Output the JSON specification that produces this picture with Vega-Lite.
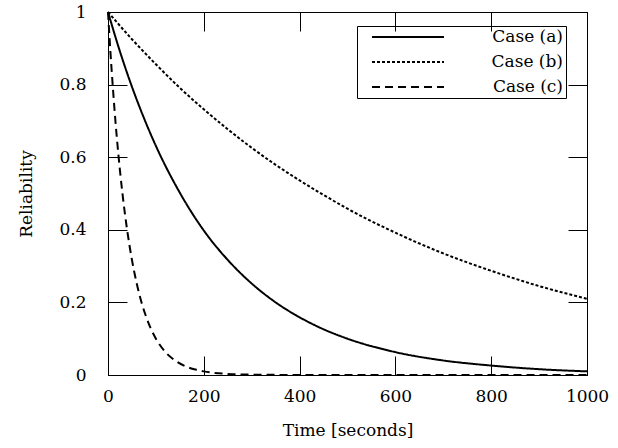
{
  "$schema": "https://vega.github.io/schema/vega-lite/v6.json",
  "width": 479,
  "height": 363,
  "autosize": {"type": "none"},
  "padding": {"left": 108, "top": 12, "right": 31, "bottom": 73},
  "config": {
    "font": "DejaVu Serif",
    "view": {"stroke": "black", "strokeWidth": 1},
    "axis": {
      "grid": false,
      "domainColor": "black",
      "tickColor": "black",
      "tickSize": -19,
      "labelFlush": false,
      "labelFont": "DejaVu Serif",
      "labelFontSize": 17,
      "labelColor": "black",
      "titleFont": "DejaVu Serif",
      "titleFontSize": 17,
      "titleFontWeight": "normal",
      "titleColor": "black"
    }
  },
  "data": {"values": [
    {"t": 0, "r": 1, "case": "Case (a)"},
    {"t": 25, "r": 0.891, "case": "Case (a)"},
    {"t": 50, "r": 0.794, "case": "Case (a)"},
    {"t": 75, "r": 0.708, "case": "Case (a)"},
    {"t": 100, "r": 0.631, "case": "Case (a)"},
    {"t": 150, "r": 0.502, "case": "Case (a)"},
    {"t": 200, "r": 0.398, "case": "Case (a)"},
    {"t": 250, "r": 0.317, "case": "Case (a)"},
    {"t": 300, "r": 0.252, "case": "Case (a)"},
    {"t": 350, "r": 0.2, "case": "Case (a)"},
    {"t": 400, "r": 0.159, "case": "Case (a)"},
    {"t": 450, "r": 0.126, "case": "Case (a)"},
    {"t": 500, "r": 0.1, "case": "Case (a)"},
    {"t": 600, "r": 0.063, "case": "Case (a)"},
    {"t": 700, "r": 0.04, "case": "Case (a)"},
    {"t": 800, "r": 0.026, "case": "Case (a)"},
    {"t": 900, "r": 0.016, "case": "Case (a)"},
    {"t": 1000, "r": 0.01, "case": "Case (a)"},
    {"t": 0, "r": 1, "case": "Case (b)"},
    {"t": 50, "r": 0.925, "case": "Case (b)"},
    {"t": 100, "r": 0.856, "case": "Case (b)"},
    {"t": 150, "r": 0.791, "case": "Case (b)"},
    {"t": 200, "r": 0.732, "case": "Case (b)"},
    {"t": 250, "r": 0.677, "case": "Case (b)"},
    {"t": 300, "r": 0.626, "case": "Case (b)"},
    {"t": 350, "r": 0.579, "case": "Case (b)"},
    {"t": 400, "r": 0.536, "case": "Case (b)"},
    {"t": 450, "r": 0.496, "case": "Case (b)"},
    {"t": 500, "r": 0.458, "case": "Case (b)"},
    {"t": 600, "r": 0.392, "case": "Case (b)"},
    {"t": 700, "r": 0.335, "case": "Case (b)"},
    {"t": 800, "r": 0.287, "case": "Case (b)"},
    {"t": 900, "r": 0.245, "case": "Case (b)"},
    {"t": 1000, "r": 0.21, "case": "Case (b)"},
    {"t": 0, "r": 1, "case": "Case (c)"},
    {"t": 5, "r": 0.891, "case": "Case (c)"},
    {"t": 10, "r": 0.795, "case": "Case (c)"},
    {"t": 15, "r": 0.708, "case": "Case (c)"},
    {"t": 20, "r": 0.631, "case": "Case (c)"},
    {"t": 25, "r": 0.563, "case": "Case (c)"},
    {"t": 30, "r": 0.502, "case": "Case (c)"},
    {"t": 40, "r": 0.399, "case": "Case (c)"},
    {"t": 50, "r": 0.317, "case": "Case (c)"},
    {"t": 60, "r": 0.252, "case": "Case (c)"},
    {"t": 70, "r": 0.2, "case": "Case (c)"},
    {"t": 80, "r": 0.159, "case": "Case (c)"},
    {"t": 90, "r": 0.126, "case": "Case (c)"},
    {"t": 100, "r": 0.1, "case": "Case (c)"},
    {"t": 120, "r": 0.063, "case": "Case (c)"},
    {"t": 140, "r": 0.04, "case": "Case (c)"},
    {"t": 160, "r": 0.025, "case": "Case (c)"},
    {"t": 180, "r": 0.016, "case": "Case (c)"},
    {"t": 200, "r": 0.01, "case": "Case (c)"},
    {"t": 250, "r": 0.003, "case": "Case (c)"},
    {"t": 300, "r": 0.001, "case": "Case (c)"},
    {"t": 400, "r": 0.0001, "case": "Case (c)"},
    {"t": 600, "r": 0, "case": "Case (c)"},
    {"t": 800, "r": 0, "case": "Case (c)"},
    {"t": 1000, "r": 0, "case": "Case (c)"}
  ]},
  "resolve": {"axis": {"x": "independent", "y": "independent"}},
  "layer": [
    {
      "mark": {"type": "line", "color": "black", "strokeWidth": 2, "interpolate": "monotone"},
      "encoding": {
        "x": {"field": "t", "type": "quantitative", "scale": {"domain": [0, 1000], "nice": false},
          "axis": {"orient": "bottom", "title": "Time [seconds]", "values": [0, 200, 400, 600, 800, 1000], "format": "d", "labelPadding": 32, "titlePadding": 18}},
        "y": {"field": "r", "type": "quantitative", "scale": {"domain": [0, 1], "nice": false},
          "axis": {"orient": "left", "title": "Reliability", "values": [0, 0.2, 0.4, 0.6, 0.8, 1], "format": "~g", "labelPadding": 41, "titlePadding": 23}},
        "strokeDash": {"field": "case", "type": "nominal",
          "scale": {"domain": ["Case (a)", "Case (b)", "Case (c)"], "range": [[1, 0], [3, 2], [8, 5]]},
          "legend": {
            "title": null,
            "orient": "none",
            "legendX": 249,
            "legendY": 14,
            "symbolType": "stroke",
            "symbolSize": 5184,
            "symbolStrokeWidth": 2,
            "symbolStrokeColor": "black",
            "symbolOffset": 11,
            "clipHeight": 16,
            "rowPadding": 8,
            "padding": 3,
            "labelAlign": "right",
            "labelOffset": 118,
            "labelFont": "DejaVu Serif",
            "labelFontSize": 17,
            "labelColor": "black",
            "labelLimit": 300,
            "strokeColor": "black",
            "fillColor": null
          }}
      }
    },
    {
      "mark": {"type": "line", "opacity": 0},
      "encoding": {
        "x": {"field": "t", "type": "quantitative", "axis": {"orient": "top", "title": null, "labels": false, "values": [0, 200, 400, 600, 800, 1000]}},
        "y": {"field": "r", "type": "quantitative", "axis": {"orient": "right", "title": null, "labels": false, "values": [0, 0.2, 0.4, 0.6, 0.8, 1]}},
        "detail": {"field": "case"}
      }
    }
  ]
}
